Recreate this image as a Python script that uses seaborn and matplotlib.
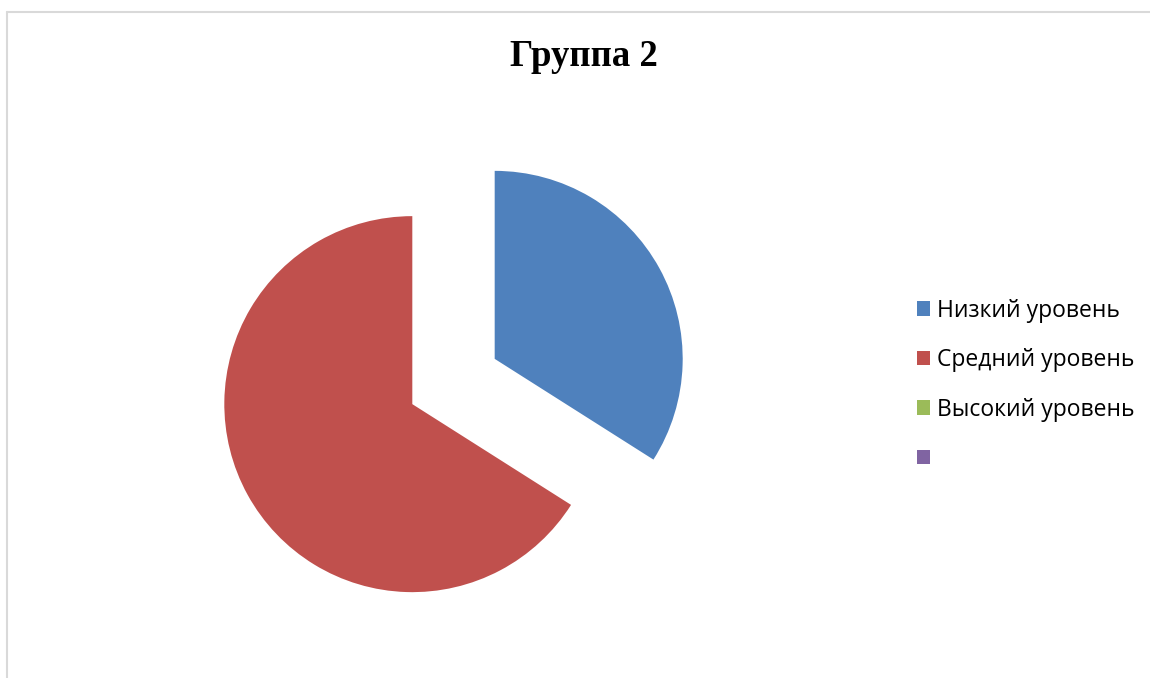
import matplotlib
matplotlib.use("Agg")
import matplotlib.pyplot as plt
from matplotlib.patches import Patch
from matplotlib.lines import Line2D
import seaborn as sns

sns.set_theme(style="white")

# data
labels = ["Низкий уровень", "Средний уровень", "Высокий уровень", ""]
values = [34, 66, 0, 0]
colors = ["#4F81BD", "#C0504D", "#9BBB59", "#8064A2"]
title = "Группа 2"

W, H = 1150, 678
fig = plt.figure(figsize=(W / 100, H / 100), dpi=100)
fig.patch.set_facecolor("white")

# chart border: only top and left edges are visible in the source
fig.lines.append(Line2D([7 / W, 1.01], [1 - 12 / H, 1 - 12 / H], transform=fig.transFigure,
                        color="#D9D9D9", linewidth=1.5))
fig.lines.append(Line2D([7 / W, 7 / W], [-0.01, 1 - 12 / H], transform=fig.transFigure,
                        color="#D9D9D9", linewidth=1.5))

# pie axes: 188 px per unit radius, centre at (453.5, 381.5)
r_px = 188
cx, cy = 453.5, H - 381.5
half = 1.6 * r_px
ax = fig.add_axes([(cx - half) / W, (cy - half) / H, 2 * half / W, 2 * half / H])
wedges, _ = ax.pie(values, colors=colors, startangle=90, counterclock=False,
                   explode=[0.25, 0.25, 0.25, 0.25], radius=1,
                   wedgeprops=dict(linewidth=0))
ax.set_xlim(-1.6, 1.6)
ax.set_ylim(-1.6, 1.6)
ax.set_aspect("equal")
ax.axis("off")

fig.text(584 / W, 1 - 57 / H, title, ha="center", va="center", color="black",
         fontsize=26.5, fontweight="bold", family="Liberation Serif")

handles = [Patch(facecolor=c, edgecolor="none") for c in colors]
leg = fig.legend(handles, labels, loc="center left", bbox_to_anchor=(896 / W, 1 - 385 / H),
                 frameon=False, prop={"family": "Open Sans", "size": 16.5},
                 handlelength=0.6, handleheight=0.6, handletextpad=0.3,
                 labelspacing=1.11)
for t in leg.get_texts():
    t.set_color("black")

fig.savefig("out.png", dpi=100, facecolor="white")
